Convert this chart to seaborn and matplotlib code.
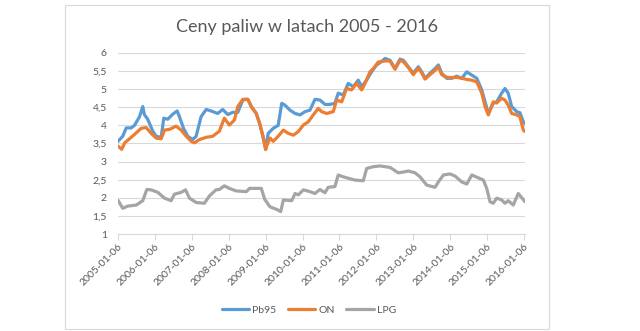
import matplotlib
matplotlib.use("Agg")
import matplotlib.pyplot as plt
import matplotlib.patches as mpatches
import seaborn as sns
import pandas as pd

# ---------------- data ----------------
title = "Ceny paliw w latach 2005 - 2016"
series_names = ["Pb95", "ON", "LPG"]
colors = ["#5B9BD5", "#ED7D31", "#A5A5A5"]

pb95_dates = ["2005-01-06", "2005-02-22", "2005-03-28", "2005-05-16", "2005-06-18", "2005-08-07",
              "2005-09-08", "2005-09-24", "2005-10-27", "2005-12-16", "2006-01-19", "2006-03-09",
              "2006-04-04", "2006-05-13", "2006-07-02", "2006-08-14", "2006-09-06", "2006-10-16",
              "2006-11-27", "2007-01-15", "2007-02-18", "2007-04-08", "2007-05-28", "2007-07-16",
              "2007-09-19", "2007-11-08", "2007-12-28", "2008-02-15", "2008-04-05", "2008-05-25",
              "2008-06-28", "2008-07-14", "2008-08-17", "2008-10-05", "2008-11-07", "2008-12-10",
              "2009-01-06", "2009-01-31", "2009-03-22", "2009-05-10", "2009-06-14", "2009-07-16",
              "2009-09-04", "2009-10-24", "2009-12-12", "2010-01-31", "2010-03-20", "2010-05-09",
              "2010-06-27", "2010-08-16", "2010-10-04", "2010-11-22", "2010-12-25", "2011-02-13",
              "2011-04-03", "2011-05-23", "2011-07-11", "2011-08-14", "2011-10-02", "2011-11-20",
              "2012-01-09", "2012-02-11", "2012-04-01", "2012-05-20", "2012-07-09", "2012-08-27",
              "2012-09-29", "2012-11-17", "2013-01-06", "2013-02-24", "2013-03-30", "2013-05-02",
              "2013-06-20", "2013-08-09", "2013-09-11", "2013-10-14", "2013-12-03", "2014-01-21",
              "2014-03-12", "2014-04-30", "2014-06-19", "2014-08-07", "2014-09-26", "2014-11-14",
              "2014-12-17", "2015-01-18", "2015-03-08", "2015-04-11", "2015-05-30", "2015-07-02",
              "2015-08-03", "2015-09-06", "2015-10-26", "2015-11-27", "2015-12-30", "2016-01-16"]
pb95_values = [3.56, 3.70, 3.93, 3.93, 4.00, 4.24,
               4.52, 4.30, 4.17, 3.84, 3.70, 3.67,
               4.20, 4.17, 4.31, 4.40, 4.24, 3.92,
               3.70, 3.61, 3.70, 4.24, 4.44, 4.40,
               4.33, 4.44, 4.30, 4.36, 4.36, 4.70,
               4.72, 4.72, 4.52, 4.33, 4.06, 3.70,
               3.35, 3.78, 3.92, 4.00, 4.61, 4.56,
               4.42, 4.33, 4.29, 4.38, 4.42, 4.72,
               4.70, 4.58, 4.58, 4.61, 4.89, 4.84,
               5.16, 5.07, 5.25, 5.07, 5.25, 5.48,
               5.67, 5.73, 5.85, 5.80, 5.57, 5.83,
               5.80, 5.62, 5.44, 5.62, 5.48, 5.30,
               5.44, 5.57, 5.67, 5.44, 5.30, 5.30,
               5.36, 5.30, 5.48, 5.39, 5.30, 4.98,
               4.65, 4.33, 4.61, 4.65, 4.89, 5.02,
               4.89, 4.52, 4.38, 4.35, 4.10, 4.05]

on_dates = ["2005-01-06", "2005-02-12", "2005-03-14", "2005-04-29", "2005-06-18", "2005-08-23",
            "2005-10-12", "2005-11-30", "2006-01-19", "2006-03-09", "2006-04-11", "2006-05-30",
            "2006-08-04", "2006-09-23", "2006-11-12", "2006-12-31", "2007-02-02", "2007-03-23",
            "2007-05-28", "2007-08-01", "2007-10-06", "2007-11-24", "2008-01-13", "2008-03-03",
            "2008-04-05", "2008-05-25", "2008-07-14", "2008-08-17", "2008-10-05", "2008-11-07",
            "2008-12-10", "2009-01-06", "2009-01-16", "2009-02-18", "2009-03-22", "2009-05-10",
            "2009-06-30", "2009-08-18", "2009-10-07", "2009-11-25", "2010-01-14", "2010-03-04",
            "2010-04-22", "2010-06-10", "2010-07-14", "2010-09-02", "2010-11-06", "2010-12-09",
            "2011-01-28", "2011-03-18", "2011-05-06", "2011-06-25", "2011-08-14", "2011-09-16",
            "2011-11-04", "2011-12-07", "2012-01-25", "2012-04-01", "2012-05-20", "2012-07-09",
            "2012-08-27", "2012-09-29", "2012-11-17", "2013-01-06", "2013-02-24", "2013-03-30",
            "2013-05-02", "2013-06-20", "2013-08-09", "2013-09-11", "2013-10-14", "2013-12-03",
            "2014-01-21", "2014-03-12", "2014-04-30", "2014-06-19", "2014-08-07", "2014-09-26",
            "2014-11-14", "2014-12-17", "2015-01-18", "2015-03-08", "2015-04-11", "2015-05-30",
            "2015-07-02", "2015-08-03", "2015-09-06", "2015-10-26", "2015-11-27", "2015-12-30",
            "2016-01-16"]
on_values = [3.43, 3.34, 3.52, 3.63, 3.75, 3.92,
             3.94, 3.78, 3.65, 3.63, 3.87, 3.89,
             3.98, 3.87, 3.70, 3.56, 3.52, 3.61,
             3.67, 3.70, 3.84, 4.20, 4.01, 4.15,
             4.52, 4.72, 4.72, 4.52, 4.33, 4.06,
             3.70, 3.33, 3.43, 3.65, 3.56, 3.70,
             3.87, 3.78, 3.73, 3.83, 4.01, 4.10,
             4.29, 4.47, 4.38, 4.33, 4.38, 4.70,
             4.65, 5.02, 4.98, 5.16, 4.98, 5.16,
             5.48, 5.57, 5.75, 5.78, 5.78, 5.55,
             5.80, 5.76, 5.60, 5.40, 5.58, 5.45,
             5.28, 5.40, 5.52, 5.62, 5.40, 5.33,
             5.32, 5.33, 5.30, 5.27, 5.25, 5.20,
             4.89, 4.52, 4.29, 4.65, 4.62, 4.75,
             4.70, 4.56, 4.33, 4.29, 4.24, 3.87,
             3.83]

lpg_dates = ["2005-01-06", "2005-02-22", "2005-04-12", "2005-07-06", "2005-09-08", "2005-10-18",
             "2005-11-30", "2006-02-04", "2006-04-11", "2006-06-16", "2006-07-18", "2006-09-23",
             "2006-11-05", "2006-12-14", "2007-02-18", "2007-05-11", "2007-06-29", "2007-09-03",
             "2007-10-06", "2007-11-24", "2008-01-13", "2008-03-20", "2008-06-28", "2008-07-31",
             "2008-11-24", "2008-12-27", "2009-02-18", "2009-04-25", "2009-06-04", "2009-06-30",
             "2009-09-21", "2009-10-24", "2009-11-25", "2010-01-14", "2010-03-20", "2010-05-09",
             "2010-06-27", "2010-08-16", "2010-09-17", "2010-11-22", "2010-12-25", "2011-02-13",
             "2011-04-03", "2011-06-09", "2011-08-30", "2011-10-02", "2011-12-07", "2012-02-11",
             "2012-05-20", "2012-08-10", "2012-10-15", "2012-11-17", "2013-01-23", "2013-03-13",
             "2013-05-19", "2013-08-09", "2013-09-11", "2013-10-31", "2014-01-04", "2014-02-23",
             "2014-04-30", "2014-06-19", "2014-08-07", "2014-09-26", "2014-11-30", "2015-01-02",
             "2015-02-04", "2015-03-08", "2015-04-11", "2015-05-30", "2015-07-02", "2015-08-03",
             "2015-09-22", "2015-11-10", "2015-12-13", "2016-01-16"]
lpg_values = [1.93, 1.71, 1.77, 1.80, 1.92, 2.23,
              2.22, 2.15, 1.99, 1.92, 2.10, 2.15,
              2.22, 1.99, 1.87, 1.85, 2.05, 2.22,
              2.23, 2.33, 2.26, 2.19, 2.17, 2.26,
              2.26, 1.96, 1.75, 1.68, 1.62, 1.94,
              1.92, 2.12, 2.08, 2.22, 2.17, 2.12,
              2.23, 2.14, 2.29, 2.31, 2.63, 2.58,
              2.54, 2.49, 2.47, 2.81, 2.86, 2.88,
              2.84, 2.69, 2.72, 2.74, 2.69, 2.58,
              2.35, 2.29, 2.44, 2.63, 2.66, 2.60,
              2.44, 2.38, 2.63, 2.57, 2.49, 2.26,
              1.89, 1.85, 1.99, 1.94, 1.85, 1.92,
              1.80, 2.12, 2.01, 1.89]

x_tick_labels = ["2005-01-06", "2006-01-06", "2007-01-06", "2008-01-06", "2009-01-06", "2010-01-06",
                 "2011-01-06", "2012-01-06", "2013-01-06", "2014-01-06", "2015-01-06", "2016-01-06"]
y_ticks = [1, 1.5, 2, 2.5, 3, 3.5, 4, 4.5, 5, 5.5, 6]

# ---------------- frame ----------------
frames = []
for name, d, v in [("Pb95", pb95_dates, pb95_values), ("ON", on_dates, on_values), ("LPG", lpg_dates, lpg_values)]:
    frames.append(pd.DataFrame({"data": pd.to_datetime(d), "cena": v, "paliwo": name}))
df = pd.concat(frames, ignore_index=True)

sns.set_theme(style="white")
plt.rcParams["font.family"] = ["Lato", "DejaVu Sans"]

W, H = 640, 331
fig = plt.figure(figsize=(W / 100, H / 100), dpi=100)
ax = fig.add_axes([118 / W, 1 - 234 / H, (525 - 118) / W, (234 - 53) / H])

sns.lineplot(data=df, x="data", y="cena", hue="paliwo", hue_order=series_names,
             palette=colors, linewidth=2.3, ax=ax, legend=True, estimator=None, sort=True)

tc = "#595959"
grid_c = "#D9D9D9"
ax.set_ylim(1, 6)
ax.set_xlim(pd.Timestamp("2005-01-06"), pd.Timestamp("2016-01-16"))
ax.set_yticks(y_ticks)
ax.set_yticklabels([("%g" % t).replace(".", ",") for t in y_ticks], fontsize=7.5, color=tc)
ax.set_xticks(pd.to_datetime(x_tick_labels))
ax.set_xticklabels(x_tick_labels, rotation=45, ha="right", rotation_mode="anchor", fontsize=7.5, color=tc)
ax.set_xlabel("")
ax.set_ylabel("")
ax.grid(axis="y", color=grid_c, linewidth=0.8)
ax.set_axisbelow(True)
for s in ["top", "right", "left"]:
    ax.spines[s].set_visible(False)
ax.spines["bottom"].set_color(grid_c)
ax.spines["bottom"].set_linewidth(0.8)
ax.tick_params(axis="x", length=4, color=grid_c, width=0.8, pad=2, bottom=True)
ax.tick_params(axis="y", length=0, pad=8)

handles, labels = ax.get_legend_handles_labels()
ax.legend_.remove()
fig.legend(handles, labels, loc="center", bbox_to_anchor=(309 / W, 1 - 310 / H), ncol=3,
           frameon=False, fontsize=7.5, labelcolor=tc, handlelength=2.6, handletextpad=0.35,
           columnspacing=1.1)
for h in fig.legends[0].get_lines():
    h.set_linewidth(2.3)

fig.text(307 / W, 1 - 27 / H, title, ha="center", va="center", fontsize=13, color=tc)

fig.patches.append(mpatches.Rectangle((65 / W, 1 - 329 / H), (549 - 65) / W, (329 - 5) / H,
                                      transform=fig.transFigure, fill=False,
                                      edgecolor=grid_c, linewidth=0.8))

fig.savefig("out.png", dpi=100)
